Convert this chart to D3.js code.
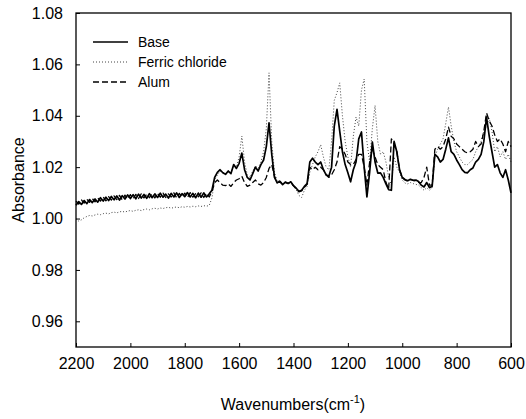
<!DOCTYPE html>
<html><head><meta charset="utf-8">
<script src="https://cdn.jsdelivr.net/npm/d3@7"></script>
<style>body{margin:0;background:#fff}svg{display:block}text{font-family:"Liberation Sans",Arial,sans-serif;fill:#000}</style>
</head><body>
<svg id="c" width="526" height="419"></svg>
<script>
const wavenumbers = [2200,2190,2180,2170,2160,2150,2140,2130,2120,2110,2100,2090,2080,2070,2060,2050,2040,2030,2020,2010,
2000,1990,1980,1970,1960,1950,1940,1930,1920,1910,1900,1890,1880,1870,1860,1850,1840,1830,1820,1810,
1800,1790,1780,1770,1760,1750,1740,1730,1720,1710,1700,1690,1680,1670,1660,1650,1640,1630,1620,1610,
1600,1590,1580,1570,1560,1550,1540,1530,1520,1510,1500,1490,1480,1470,1460,1450,1440,1430,1420,1410,
1400,1390,1380,1370,1360,1350,1340,1330,1320,1310,1300,1290,1280,1270,1260,1250,1240,1230,1220,1210,
1200,1190,1180,1170,1160,1150,1140,1130,1120,1110,1100,1090,1080,1070,1060,1050,1040,1030,1020,1010,
1000,990,980,970,960,950,940,930,920,910,900,890,880,870,860,850,840,830,820,810,
800,790,780,770,760,750,740,730,720,710,700,690,680,670,660,650,640,630,620,610,600];

const base = [1.0052,1.0066,1.0055,1.0070,1.0058,1.0074,1.0062,1.0076,1.0064,1.0081,1.0068,1.0083,1.0070,1.0086,1.0073,1.0088,1.0072,1.0089,1.0076,1.0092,
1.0078,1.0093,1.0077,1.0095,1.0080,1.0094,1.0079,1.0097,1.0081,1.0096,1.0082,1.0099,1.0083,1.0095,1.0080,1.0098,1.0084,1.0100,1.0082,1.0097,
1.0085,1.0101,1.0084,1.0098,1.0081,1.0099,1.0083,1.0100,1.0084,1.0096,1.0110,1.0160,1.0180,1.0190,1.0178,1.0172,1.0185,1.0175,1.0210,1.0195,
1.0215,1.0255,1.0190,1.0160,1.0150,1.0175,1.0200,1.0185,1.0210,1.0228,1.0280,1.0372,1.0250,1.0160,1.0139,1.0145,1.0132,1.0142,1.0136,1.0143,
1.0128,1.0118,1.0106,1.0110,1.0125,1.0136,1.0220,1.0235,1.0220,1.0210,1.0220,1.0190,1.0170,1.0165,1.0200,1.0360,1.0425,1.0340,1.0260,1.0210,
1.0178,1.0143,1.0190,1.0220,1.0310,1.0337,1.0200,1.0084,1.0180,1.0298,1.0220,1.0177,1.0178,1.0160,1.0135,1.0112,1.0110,1.0300,1.0260,1.0190,
1.0160,1.0152,1.0147,1.0153,1.0149,1.0150,1.0144,1.0130,1.0123,1.0140,1.0120,1.0126,1.0250,1.0240,1.0220,1.0230,1.0270,1.0314,1.0260,1.0250,
1.0228,1.0210,1.0190,1.0180,1.0178,1.0190,1.0197,1.0220,1.0230,1.0250,1.0300,1.0395,1.0320,1.0260,1.0200,1.0210,1.0178,1.0160,1.0190,1.0150,1.0100];

const ferric = [1.0000,0.9990,0.9995,1.0003,1.0008,1.0012,1.0010,1.0014,1.0017,1.0015,1.0019,1.0021,1.0018,1.0023,1.0025,1.0022,1.0026,1.0028,1.0025,1.0029,
1.0031,1.0028,1.0032,1.0034,1.0031,1.0035,1.0037,1.0034,1.0038,1.0040,1.0037,1.0041,1.0039,1.0042,1.0044,1.0040,1.0043,1.0045,1.0042,1.0046,
1.0044,1.0047,1.0045,1.0048,1.0046,1.0049,1.0047,1.0050,1.0048,1.0051,1.0080,1.0150,1.0170,1.0185,1.0180,1.0175,1.0182,1.0178,1.0205,1.0200,
1.0240,1.0321,1.0220,1.0170,1.0160,1.0185,1.0205,1.0195,1.0220,1.0260,1.0350,1.0567,1.0300,1.0180,1.0145,1.0148,1.0135,1.0140,1.0138,1.0142,
1.0125,1.0112,1.0090,1.0082,1.0110,1.0125,1.0180,1.0210,1.0240,1.0260,1.0287,1.0240,1.0200,1.0190,1.0300,1.0460,1.0490,1.0528,1.0400,1.0300,
1.0240,1.0200,1.0320,1.0395,1.0360,1.0500,1.0543,1.0300,1.0220,1.0350,1.0440,1.0300,1.0250,1.0260,1.0220,1.0160,1.0130,1.0240,1.0200,1.0180,
1.0150,1.0138,1.0135,1.0140,1.0136,1.0133,1.0130,1.0120,1.0110,1.0120,1.0110,1.0120,1.0240,1.0270,1.0290,1.0310,1.0370,1.0434,1.0360,1.0300,
1.0260,1.0240,1.0220,1.0210,1.0210,1.0220,1.0230,1.0260,1.0280,1.0300,1.0340,1.0360,1.0390,1.0340,1.0260,1.0280,1.0240,1.0260,1.0230,1.0250,1.0220];

const alum = [1.0068,1.0056,1.0072,1.0060,1.0075,1.0063,1.0078,1.0065,1.0080,1.0068,1.0084,1.0069,1.0085,1.0072,1.0088,1.0074,1.0090,1.0073,1.0091,1.0076,
1.0093,1.0077,1.0094,1.0078,1.0096,1.0080,1.0095,1.0081,1.0098,1.0080,1.0097,1.0083,1.0099,1.0082,1.0096,1.0084,1.0100,1.0081,1.0098,1.0083,
1.0099,1.0082,1.0101,1.0083,1.0097,1.0085,1.0100,1.0082,1.0098,1.0084,1.0105,1.0140,1.0150,1.0139,1.0130,1.0128,1.0135,1.0125,1.0140,1.0150,
1.0155,1.0165,1.0140,1.0125,1.0130,1.0140,1.0150,1.0135,1.0130,1.0140,1.0160,1.0195,1.0210,1.0165,1.0140,1.0142,1.0133,1.0141,1.0137,1.0142,
1.0127,1.0116,1.0104,1.0108,1.0122,1.0133,1.0200,1.0190,1.0200,1.0190,1.0200,1.0190,1.0170,1.0160,1.0170,1.0190,1.0220,1.0280,1.0270,1.0250,
1.0220,1.0210,1.0210,1.0230,1.0250,1.0250,1.0200,1.0130,1.0220,1.0270,1.0240,1.0210,1.0200,1.0190,1.0140,1.0115,1.0310,1.0290,1.0260,1.0190,
1.0160,1.0150,1.0146,1.0152,1.0148,1.0147,1.0141,1.0140,1.0160,1.0200,1.0130,1.0130,1.0270,1.0280,1.0270,1.0280,1.0310,1.0356,1.0320,1.0310,
1.0290,1.0280,1.0270,1.0260,1.0255,1.0260,1.0270,1.0300,1.0280,1.0290,1.0340,1.0411,1.0380,1.0360,1.0326,1.0300,1.0310,1.0290,1.0260,1.0300,1.0280];

const yTicks = [0.96,0.98,1.00,1.02,1.04,1.06,1.08];
const xTicks = [2200,2000,1800,1600,1400,1200,1000,800,600];
const seriesNames = ["Base","Ferric chloride","Alum"];

const svg = d3.select("#c");
const L = 76, R = 511, T = 13, B = 347;
const x = d3.scaleLinear().domain([2200,600]).range([L,R]);
const y = d3.scaleLinear().domain([0.95,1.08]).range([B,T]);

const styles = [
  {w:1.7, dash:null, color:"#000"},
  {w:1, dash:"1,2", color:"#444"},
  {w:1.3, dash:"6,3", color:"#000"}
];
const allSeries = [base, ferric, alum];

const g = svg.append("g");
const line = d3.line().x((d,i)=>x(wavenumbers[i])).y(d=>y(d));
[1,2,0].forEach(k=>{
  g.append("path").datum(allSeries[k]).attr("d",line)
    .attr("fill","none").attr("stroke",styles[k].color)
    .attr("stroke-width",styles[k].w)
    .attr("stroke-dasharray",styles[k].dash)
    .attr("stroke-linejoin","round");
});

// frame
svg.append("rect").attr("x",L).attr("y",T).attr("width",R-L).attr("height",B-T)
  .attr("fill","none").attr("stroke","#000").attr("stroke-width",1.3);

const yAxis = d3.axisLeft(y).tickValues(yTicks).tickFormat(d3.format(".2f")).tickSizeInner(-4).tickSizeOuter(0).tickPadding(13);
const ya = svg.append("g").attr("transform",`translate(${L},0)`).call(yAxis);
const xAxis = d3.axisBottom(x).tickValues(xTicks).tickFormat(d3.format("d")).tickSizeInner(-4).tickSizeOuter(0).tickPadding(11);
const xa = svg.append("g").attr("transform",`translate(0,${B})`).call(xAxis);
[ya,xa].forEach(a=>{
  a.select(".domain").remove();
  a.selectAll("text").attr("font-size",16).attr("font-family","Liberation Sans, Arial, sans-serif");
  a.selectAll("line").attr("stroke","#000");
});

svg.append("text").attr("transform",`translate(24,${(T+B)/2}) rotate(-90)`)
  .attr("text-anchor","middle").attr("font-size",16).text("Absorbance");
const xt = svg.append("text").attr("x",293).attr("y",410).attr("text-anchor","middle").attr("font-size",16);
xt.append("tspan").text("Wavenumbers(cm");
xt.append("tspan").attr("dy",-7).attr("font-size",11).text("-1");
xt.append("tspan").attr("dy",7).text(")");

// legend
const lg = svg.append("g");
seriesNames.forEach((n,k)=>{
  const yy = 42 + k*20;
  lg.append("line").attr("x1",93).attr("x2",128).attr("y1",yy).attr("y2",yy)
    .attr("stroke",styles[k].color).attr("stroke-width",styles[k].w)
    .attr("stroke-dasharray",styles[k].dash);
  lg.append("text").attr("x",138).attr("y",yy+5).attr("font-size",14).text(n);
});
</script>
</body></html>
